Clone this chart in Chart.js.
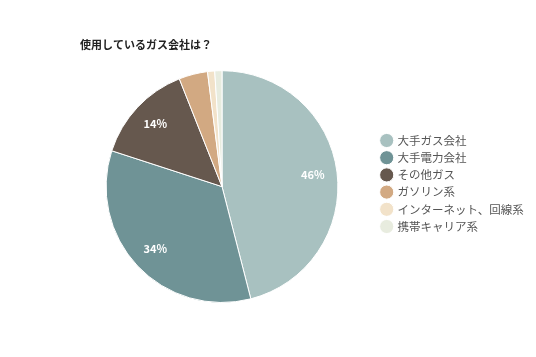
<!DOCTYPE html>
<html><head><meta charset="utf-8">
<script src="https://cdn.jsdelivr.net/npm/chart.js@4/dist/chart.umd.min.js"></script>
<style>html,body{margin:0;padding:0;background:#fff}#w{width:536px;height:357px}</style>
</head><body><div id="w"><canvas id="c" width="536" height="357"></canvas></div>
<script>
const categories = ["大手ガス会社","大手電力会社","その他ガス","ガソリン系","インターネット、回線系","携帯キャリア系"];
const values = [46, 34, 14, 4, 1, 1];
const colors = ["#a8c1c0","#6f9396","#66584e","#d2a982","#f2e2c9","#e8ecdf"];
const titleText = "使用しているガス会社は？";
const FONT = "'Noto Sans CJK JP', 'Noto Sans', sans-serif";

const pctLabels = {
  id: 'pctLabels',
  afterDatasetsDraw(chart) {
    const ctx = chart.ctx;
    const meta = chart.getDatasetMeta(0);
    const total = values.reduce((a,b)=>a+b,0);
    ctx.save();
    ctx.fillStyle = '#ffffff';
    ctx.font = "bold 11px " + FONT;
    ctx.textAlign = 'center';
    ctx.textBaseline = 'middle';
    meta.data.forEach((arc, i) => {
      const p = values[i] / total * 100;
      if (p < 5) return;
      const mid = (arc.startAngle + arc.endAngle) / 2;
      const r = arc.outerRadius * 0.79;
      ctx.fillText(Math.round(p) + '%', arc.x + Math.cos(mid) * r, arc.y + Math.sin(mid) * r);
    });
    ctx.restore();
  }
};

const legendPlace = {
  id: 'legendPlace',
  beforeLayout(chart) {
    const lg = chart.legend;
    if (lg && !lg._wrapped) {
      const f = lg.fit;
      lg.fit = function() { f.call(this); this.width = 166; };
      lg._wrapped = true;
    }
  },
  afterLayout(chart) {
    const lg = chart.legend;
    if (lg) { lg.left += 12; lg.right += 12; lg.top += 16; lg.bottom += 16; }
  }
};

new Chart(document.getElementById('c'), {
  type: 'pie',
  data: { labels: categories, datasets: [{ data: values, backgroundColor: colors, borderColor: '#ffffff', borderWidth: 1 }] },
  options: {
    responsive: false, animation: false,
    layout: { padding: { left: 80, top: 32, bottom: 54, right: 6 } },
    plugins: {
      title: { display: true, text: titleText, align: 'start', color: '#222', font: { family: FONT, size: 11, weight: 'bold' }, padding: { top: 6, bottom: 19 } },
      legend: { position: 'right', labels: { usePointStyle: true, pointStyle: 'circle', boxWidth: 10, boxHeight: 10, padding: 5.7, color: '#555', font: { family: FONT, size: 11.5 } } },
      tooltip: { enabled: false }
    }
  },
  plugins: [pctLabels, legendPlace]
});
</script></body></html>
